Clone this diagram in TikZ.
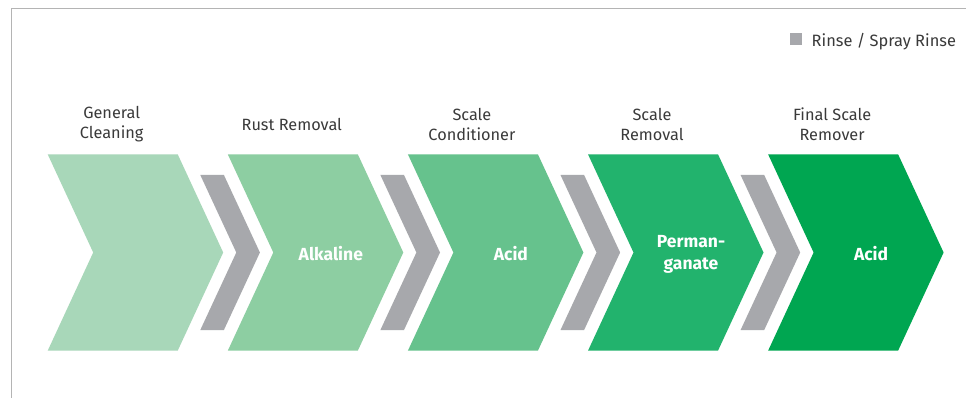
\documentclass[tikz,border=0pt]{standalone}
\usepackage{fontspec}
\setmainfont{Fira Sans}
\definecolor{frameC}{HTML}{B4B4B4}
\definecolor{txtC}{HTML}{3A3A3A}
\definecolor{rinseC}{HTML}{A7A8AC}
\definecolor{stA}{HTML}{A8D7B9}
\definecolor{stB}{HTML}{8DCEA2}
\definecolor{stC}{HTML}{66C28D}
\definecolor{stD}{HTML}{22B36D}
\definecolor{stE}{HTML}{00A651}
\tikzset{
  toplabel/.style={font=\fontsize{16.3}{20}\selectfont, text=txtC, align=center, inner sep=0pt},
  inlabel/.style={font=\fontsize{17.5}{22}\selectfont\bfseries, text=white, align=center, inner sep=0pt},
  legendtext/.style={font=\fontsize{16.4}{18}\selectfont, text=txtC, anchor=base west, inner sep=0pt}
}
\begin{document}
\begin{tikzpicture}[x=1pt,y=-1pt]
\useasboundingbox (0,0) rectangle (966,398);
\fill[white] (0,0) rectangle (966,398);
\draw[frameC, line width=1pt] (11.5,398) -- (11.5,8.5) -- (966,8.5);
% legend
\fill[rinseC] (789.5,33.5) rectangle (801.5,45.5);
\node[legendtext] (leg) at (811.5,46.5) {Rinse / Spray Rinse};
% chevrons
\foreach \i/\c/\top/\inn in {0/stA/{General\\Cleaning}/{},1/stB/{Rust Removal}/{Alkaline},2/stC/{Scale\\Conditioner}/{Acid},3/stD/{Scale\\Removal}/{Perman-\\ganate},4/stE/{Final Scale\\Remover}/{Acid}}{
  \pgfmathsetmacro{\xo}{47.7+180.1*\i}
  \fill[\c] (\xo,154.3) -- ++(130,0) -- ++(45.5,98.2) -- ++(-45.5,98.2) -- ++(-130,0) -- ++(45.5,-98.2) -- cycle;
  \node[toplabel] (top\i) at (\xo+64,124) {\top};
  \node[inlabel] (in\i) at (\xo+103,254) {\inn};
}
\foreach \i in {0,1,2,3}{
  \pgfmathsetmacro{\gx}{47.7+180.1*\i+152.6}
  \fill[rinseC] (\gx,175) -- ++(23.6,0) -- ++(36,77.5) -- ++(-36,77.5) -- ++(-23.6,0) -- ++(36,-77.5) -- cycle;
}
\end{tikzpicture}
\end{document}
